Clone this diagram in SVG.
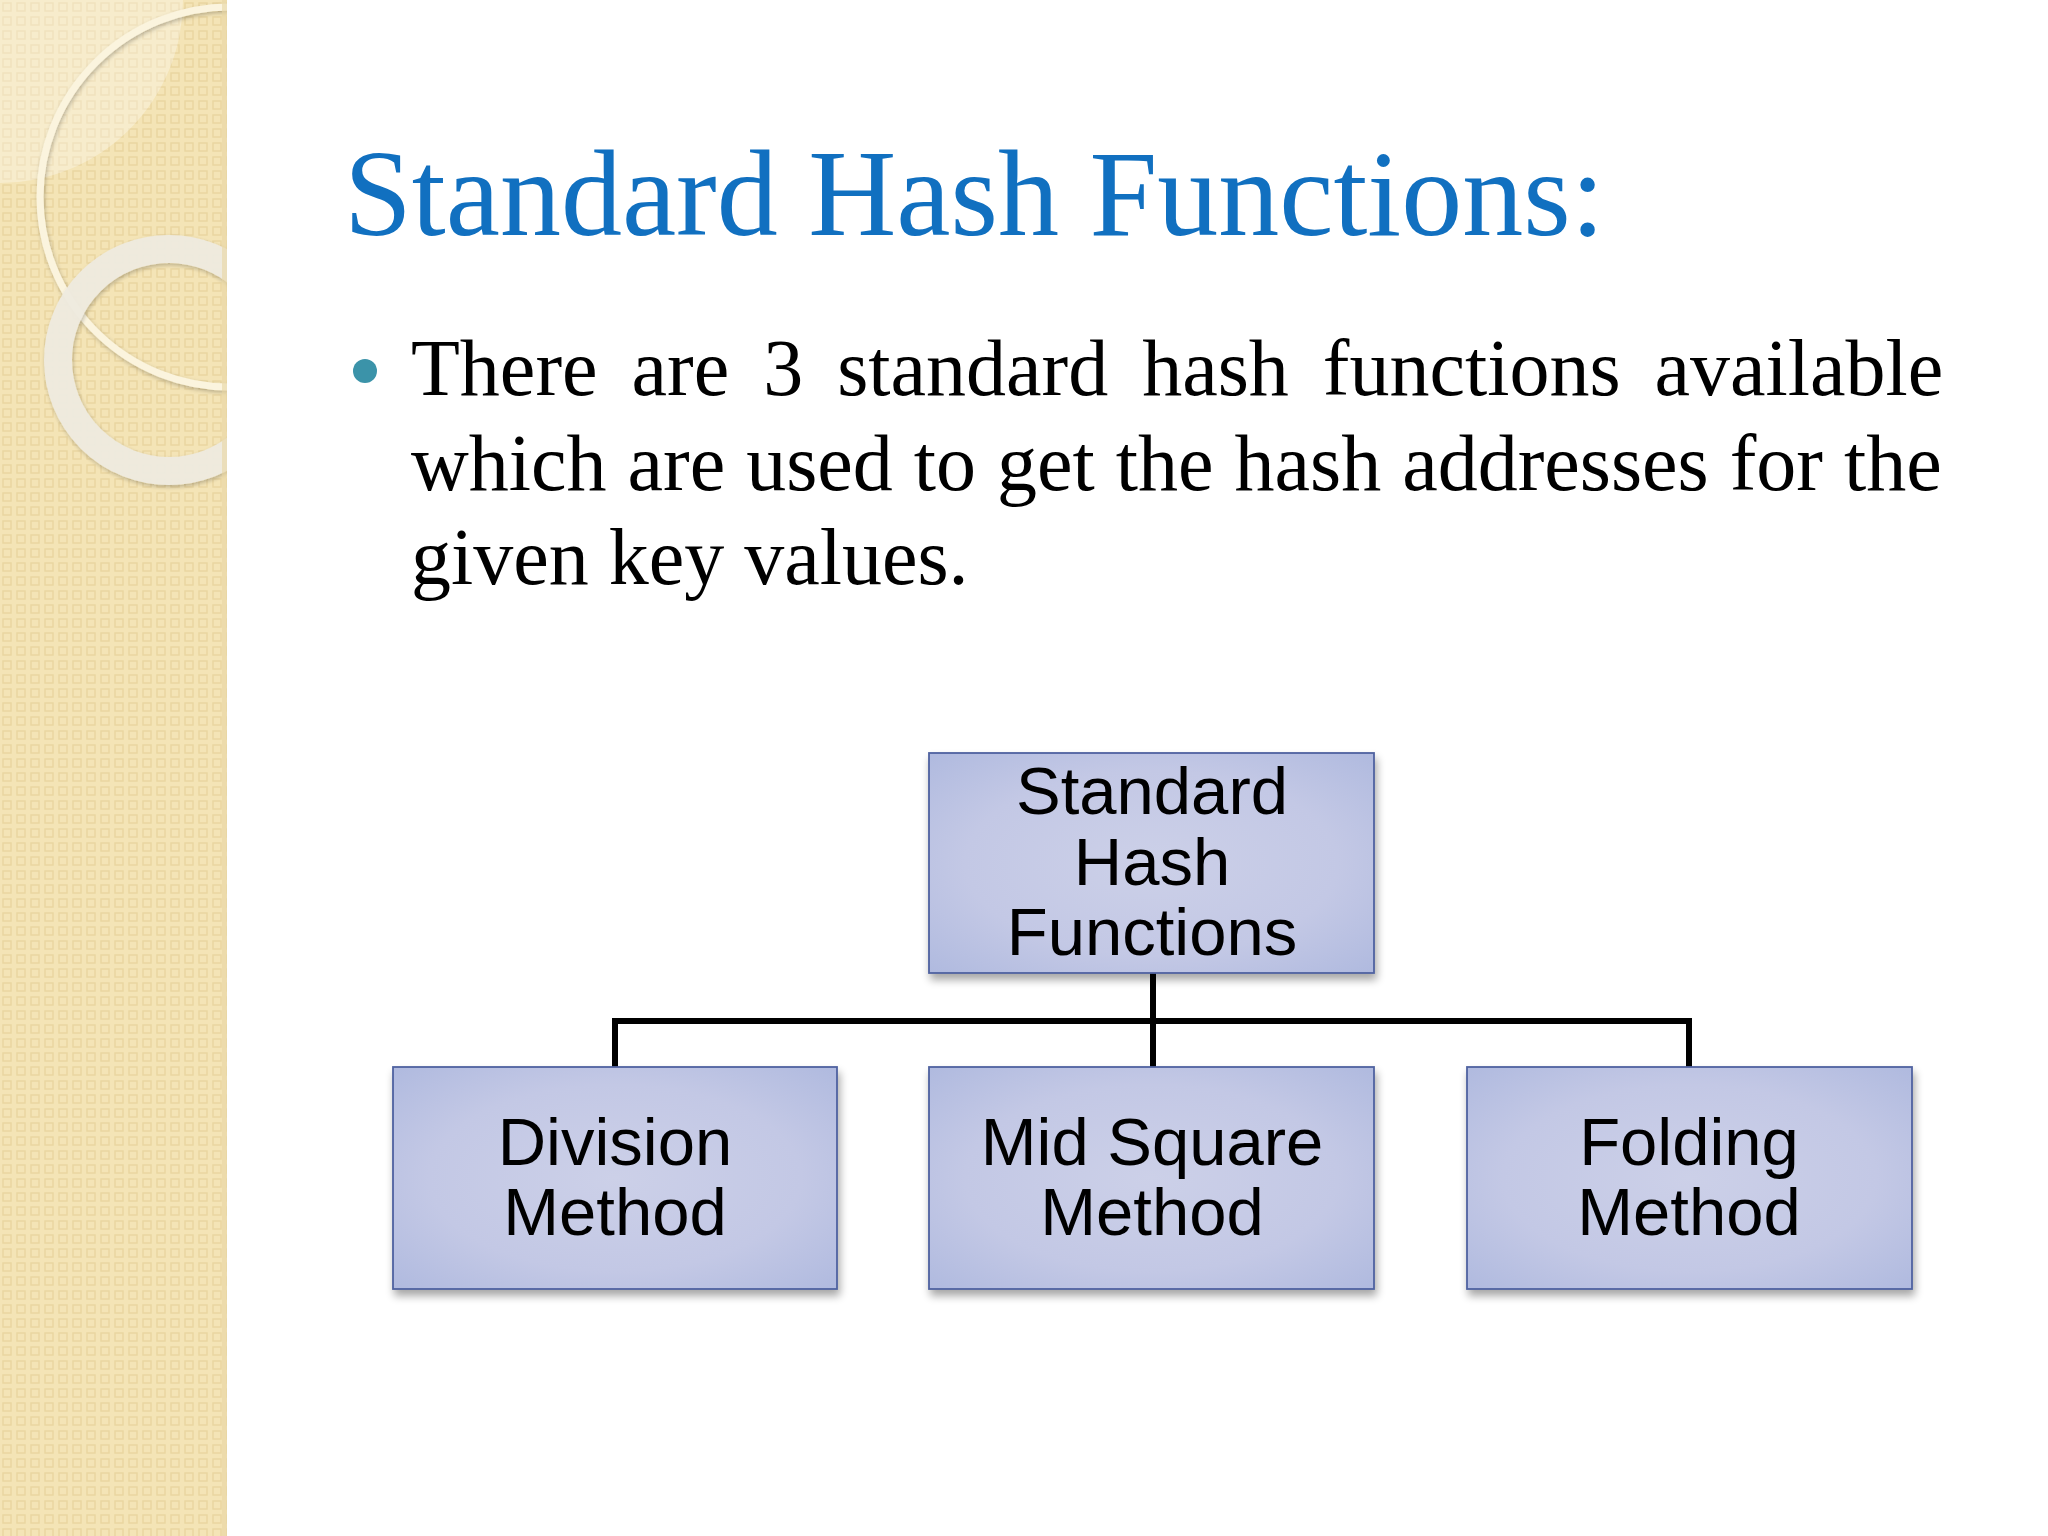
<svg xmlns="http://www.w3.org/2000/svg" width="2048" height="1536" viewBox="0 0 2048 1536">
<defs>
<pattern id="dots" x="0" y="0" width="14" height="14" patternUnits="userSpaceOnUse">
<rect x="3" y="3" width="8" height="8" fill="none" stroke="#e6d098" stroke-width="1.5" opacity="0.7"/>
</pattern>
<radialGradient id="boxg" cx="0.5" cy="0.5" r="0.7">
<stop offset="0" stop-color="#ccd0e8"/>
<stop offset="0.6" stop-color="#c3c8e5"/>
<stop offset="1" stop-color="#b0badf"/>
</radialGradient>
<filter id="shadow" x="-10%" y="-10%" width="120%" height="130%">
<feGaussianBlur in="SourceAlpha" stdDeviation="4"/>
<feOffset dx="2" dy="6" result="b"/>
<feComponentTransfer><feFuncA type="linear" slope="0.35"/></feComponentTransfer>
<feMerge><feMergeNode/><feMergeNode in="SourceGraphic"/></feMerge>
</filter>
<filter id="ringsh" x="-20%" y="-20%" width="140%" height="140%">
<feGaussianBlur in="SourceAlpha" stdDeviation="2"/>
<feOffset dx="1" dy="2"/>
<feComponentTransfer><feFuncA type="linear" slope="0.25"/></feComponentTransfer>
<feMerge><feMergeNode/><feMergeNode in="SourceGraphic"/></feMerge>
</filter>
<clipPath id="band"><rect x="0" y="0" width="227" height="1536"/></clipPath>
</defs>
<style>
.box{fill:url(#boxg);stroke:#4f62a0;stroke-width:1.8;filter:url(#shadow)}
.lbl{font-family:"Liberation Sans",Arial,sans-serif;font-size:67px;fill:#000;text-anchor:middle}
.body{font-family:"Liberation Serif","Times New Roman",serif;font-size:80px;fill:#000}
.conn{fill:none;stroke:#000;stroke-width:6}
</style>
<rect x="0" y="0" width="2048" height="1536" fill="#ffffff"/>
<g id="band-bg" clip-path="url(#band)">
<rect x="0" y="0" width="227" height="1536" fill="#f4e4b6"/>
<rect x="0" y="0" width="227" height="1536" fill="url(#dots)"/>
<path d="M0 0 H183 A183 183 0 0 1 0 183 Z" fill="#ffffff" opacity="0.3"/>
<circle cx="230" cy="197" r="190" fill="none" stroke="#fbf4de" stroke-width="7" filter="url(#ringsh)"/>
<circle cx="169" cy="360" r="111" fill="none" stroke="#efebe0" stroke-width="28" opacity="0.95" filter="url(#ringsh)"/>
<rect x="222" y="0" width="5" height="1536" fill="#e8d6a4" opacity="0.6"/>
</g>
<text x="344" y="235" font-family="'Liberation Serif','Times New Roman',serif" font-size="122" fill="#1170c0">Standard Hash Functions:</text>
<circle cx="365" cy="371" r="12" fill="#3b93a9"/>
<text class="body" x="411" y="395" word-spacing="14">There are 3 standard hash functions available</text>
<text class="body" x="411" y="490" word-spacing="1">which are used to get the hash addresses for the</text>
<text class="body" x="411" y="584">given key values.</text>
<g id="connectors">
<path class="conn" d="M1153 973 V1067"/>
<path class="conn" d="M615 1067 V1021 H1689 V1067"/>
</g>
<g id="root">
<rect class="box" x="929" y="753" width="445" height="220"/>
<text class="lbl" x="1152" y="814">Standard</text>
<text class="lbl" x="1152" y="885">Hash</text>
<text class="lbl" x="1152" y="955">Functions</text>
</g>
<g id="division">
<rect class="box" x="393" y="1067" width="444" height="222"/>
<text class="lbl" x="615" y="1165">Division</text>
<text class="lbl" x="615" y="1235">Method</text>
</g>
<g id="midsquare">
<rect class="box" x="929" y="1067" width="445" height="222"/>
<text class="lbl" x="1152" y="1165">Mid Square</text>
<text class="lbl" x="1152" y="1235">Method</text>
</g>
<g id="folding">
<rect class="box" x="1467" y="1067" width="445" height="222"/>
<text class="lbl" x="1689" y="1165">Folding</text>
<text class="lbl" x="1689" y="1235">Method</text>
</g>
</svg>
